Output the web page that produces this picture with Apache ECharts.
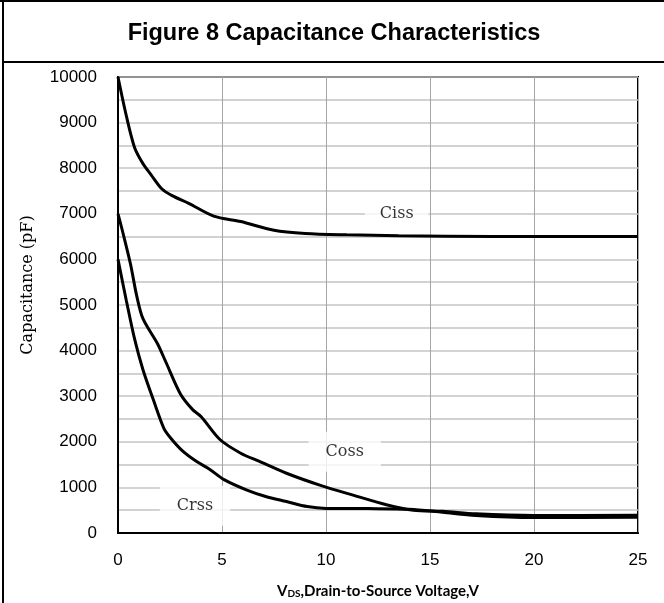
<!DOCTYPE html>
<html>
<head>
<meta charset="utf-8">
<script src="https://cdn.jsdelivr.net/npm/echarts@6/dist/echarts.min.js"></script>
<style>
  html, body { margin: 0; padding: 0; background: #fff; }
  #chart { width: 664px; height: 603px; }
</style>
</head>
<body>
<div id="chart"></div>
<script>
// values: [VDS (V), capacitance (pF)]
var cissData = [
  [0, 10000], [0.4, 9150], [0.8, 8450], [1.2, 8100], [1.6, 7850], [2.1, 7550],
  [2.6, 7400], [3.4, 7230], [4.6, 6950], [5.9, 6830], [7.5, 6640], [9, 6570],
  [11, 6540], [13.5, 6520], [18, 6500], [25, 6500]
];
var cossData = [
  [0, 7000], [0.2, 6650], [0.6, 5900], [0.9, 5200], [1.2, 4700], [1.9, 4150],
  [2.3, 3750], [3, 3050], [3.6, 2700], [4, 2550], [4.9, 2050], [5.9, 1750],
  [6.8, 1570], [8.1, 1310], [9.7, 1050], [11.3, 830], [12.9, 620], [14.2, 500],
  [15.6, 475], [17.2, 420], [20, 385], [25, 390]
];
var crssData = [
  [0, 6000], [0.4, 5100], [0.8, 4250], [1.2, 3580], [1.7, 2920], [2.2, 2300],
  [2.5, 2100], [3.1, 1800], [3.8, 1560], [4.4, 1400], [5.1, 1170], [6.2, 940],
  [7.1, 800], [8.1, 690], [9.1, 580], [10, 540], [12, 535], [14, 520],
  [15.6, 455], [17.2, 385], [20, 340], [25, 345]
];
// curve labels: [x, y, text]
var curveLabels = [
  [13.4, 7000, "Ciss"],
  [10.9, 1780, "Coss"],
  [3.7, 600, "Crss"]
];
var xTicks = { min: 0, max: 25, interval: 5 };
var yTicks = { min: 0, max: 10000, interval: 1000 };

var chart = echarts.init(document.getElementById("chart"));

var lineStyle = { color: "#000", width: 3 };
function curve(name, data) {
  return {
    name: name,
    type: "line",
    data: data,
    smooth: 0.3,
    showSymbol: false,
    symbol: "none",
    lineStyle: lineStyle,
    z: 5
  };
}

var option = {
  animation: false,
  backgroundColor: "#fff",
  title: {
    text: "Figure 8 Capacitance Characteristics",
    left: 329,
    top: 17,
    textAlign: "center",
    textStyle: {
      fontFamily: "Liberation Sans",
      fontWeight: "bold",
      fontSize: 23.5,
      color: "#000"
    }
  },
  graphic: [
    { type: "line", shape: { x1: 0, y1: 1, x2: 664, y2: 1 }, style: { stroke: "#000", lineWidth: 2 } },
    { type: "line", shape: { x1: 3, y1: 0, x2: 3, y2: 603 }, style: { stroke: "#000", lineWidth: 2 } },
    { type: "line", shape: { x1: 3, y1: 62, x2: 664, y2: 62 }, style: { stroke: "#000", lineWidth: 2 } },
    {
      type: "text",
      x: 28,
      y: 285,
      rotation: Math.PI / 2,
      style: {
        text: "Capacitance (pF)",
        fontFamily: "DejaVu Serif",
        fontSize: 16,
        fill: "#000",
        align: "center",
        verticalAlign: "middle"
      }
    }
  ],
  grid: {
    left: 118,
    right: 26,
    top: 77,
    bottom: 70,
    show: true,
    borderColor: "#000",
    borderWidth: 2,
    containLabel: false,
    outerBoundsMode: "none"
  },
  xAxis: {
    type: "value",
    min: xTicks.min,
    max: xTicks.max,
    interval: xTicks.interval,
    axisLine: { show: true, lineStyle: { color: "#000", width: 2 } },
    axisTick: { show: false },
    splitLine: { show: true, lineStyle: { color: "#a6a6a6", width: 1 } },
    axisLabel: {
      margin: 19,
      color: "#000",
      fontFamily: "Liberation Sans",
      fontSize: 17
    },
    name: "{b|V}{s|DS}{b|,Drain-to-Source Voltage,V}",
    nameLocation: "middle",
    nameGap: 50,
    nameTextStyle: {
      rich: {
        b: { fontFamily: "Lato", fontWeight: "bold", fontSize: 15, color: "#000" },
        s: { fontFamily: "Lato", fontWeight: "bold", fontSize: 10, color: "#000", verticalAlign: "bottom", padding: [6, 0, 0, 0] }
      }
    }
  },
  yAxis: {
    type: "value",
    min: yTicks.min,
    max: yTicks.max,
    interval: yTicks.interval,
    axisLine: { show: true, lineStyle: { color: "#000", width: 2 } },
    axisTick: { show: false },
    minorTick: { show: false, splitNumber: 2 },
    splitLine: { show: true, lineStyle: { color: "#c4c4c4", width: 1.5 } },
    minorSplitLine: { show: true, lineStyle: { color: "#c4c4c4", width: 1.5 } },
    axisLabel: {
      margin: 21,
      color: "#000",
      fontFamily: "Liberation Sans",
      fontSize: 17,
      formatter: function (v) { return String(v); }
    }
  },
  series: [
    {
      type: "scatter",
      symbolSize: 0,
      silent: true,
      z: 3,
      data: curveLabels.map(function (d, i) {
        return {
          value: [d[0], d[1]],
          label: {
            show: true,
            position: "inside",
            formatter: d[2],
            fontFamily: "DejaVu Serif",
            fontSize: 16,
            color: "#000",
            backgroundColor: "#fff",
            padding: i === 0 ? [5, 15] : [12, 17]
          }
        };
      })
    },
    curve("Ciss", cissData),
    curve("Coss", cossData),
    curve("Crss", crssData)
  ]
};

chart.setOption(option);
</script>
</body>
</html>
